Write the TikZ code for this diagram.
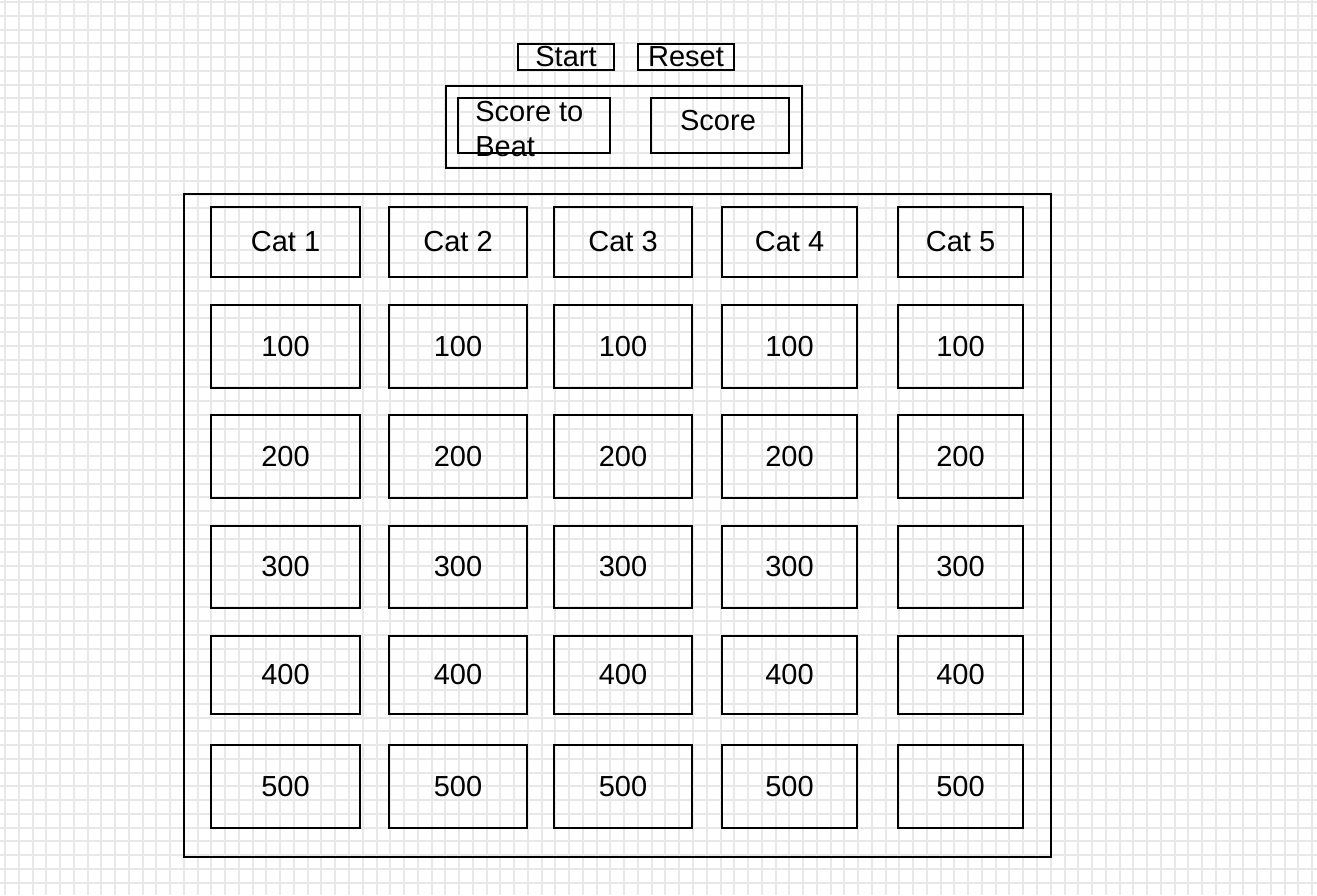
\documentclass[tikz,border=0pt]{standalone}
\usepackage{fontspec}
\setmainfont{Liberation Sans}
\usetikzlibrary{positioning}

\begin{document}
\begin{tikzpicture}[
		x=0.5pt, y=-0.5pt,
		% --- STYLES ---
		gridline/.style={
			draw=black!9, line width=1pt
		},
		sketchbox/.style={
			rectangle, draw=black, line width=1pt, inner sep=0pt, outer sep=0pt,
			align=center, font=\fontsize{14.5}{17.5}\selectfont
		},
		cellbox/.style={
			sketchbox
		},
		btnbox/.style={
			sketchbox, minimum width=48pt, minimum height=13pt
		},
		panel/.style={
			draw=black, line width=1pt
		},
		sketchtext/.style={
			inner sep=0pt, align=left, font=\fontsize{14.5}{17.5}\selectfont
		}
	]
	
	% ==========================================
	% 0. Squared paper
	% ==========================================
	\useasboundingbox (0,0) rectangle (1317,895);
	\fill[white] (0,0) rectangle (1317,895);
	\foreach \k in {0,...,95}
		\draw[gridline] ({5+13.76*\k},0) -- ({5+13.76*\k},895);
	\foreach \k in {0,...,64}
		\draw[gridline] (0,{2+13.76*\k}) -- (1317,{2+13.76*\k});
	
	% ==========================================
	% 1. Start / Reset buttons
	% ==========================================
	\node[btnbox] (start) at (566,57) {Start};
	\node[btnbox, right=12pt of start] (reset) {Reset};
	
	% ==========================================
	% 2. Score panel
	% ==========================================
	\node[sketchbox, minimum width=76pt, minimum height=27.5pt] (beatbox) at (534,125.5) {};
	\node[sketchtext, anchor=north west] (beattext) at (475,101) {Score to\\Beat};
	\node[sketchbox, minimum width=69pt, minimum height=27.5pt] (scorebox) at (720,125.5) {};
	\node[sketchtext] (scoretext) at (718,121) {Score};
	\coordinate (panel_nw) at (446,86);
	\coordinate (panel_se) at (802,168);
	\draw[panel] (panel_nw) rectangle (panel_se);
	
	% ==========================================
	% 3. Board: categories and values
	% ==========================================
	\coordinate (board_nw) at (184,194);
	\coordinate (board_se) at (1051,857);
	\draw[panel] (board_nw) rectangle (board_se);
	
	\foreach \col/\xl/\xr in {1/211/360, 2/389/527, 3/554/692, 4/722/857, 5/898/1023}
		\foreach \row/\yt/\yb in {0/207/277, 1/305/388, 2/415/498, 3/526/608, 4/636/714, 5/745/828}
			\node[cellbox, minimum width={(\xr-\xl)*0.5pt}, minimum height={(\yb-\yt)*0.5pt}]
				(cell\col-\row) at ({(\xl+\xr)/2},{(\yt+\yb)/2})
				{\ifnum\row=0 Cat \col\else\row00\fi};
	
\end{tikzpicture}
\end{document}
